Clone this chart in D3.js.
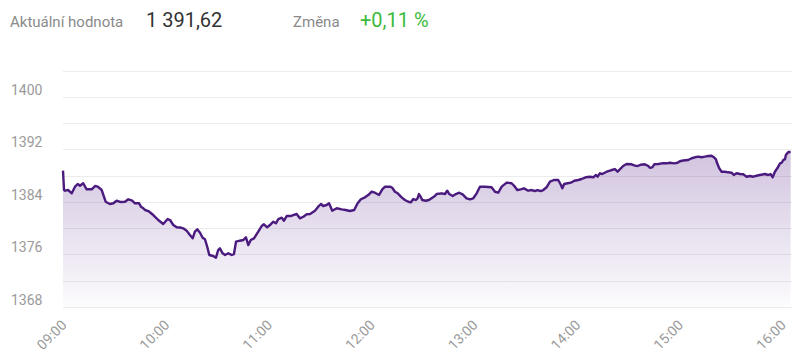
<!DOCTYPE html>
<html>
<head>
<meta charset="utf-8">
<script src="https://cdn.jsdelivr.net/npm/d3@7"></script>
<style>
  body { margin: 0; background: #fff; font-family: Roboto, "Noto Sans", sans-serif; }
  svg { display: block; }
</style>
</head>
<body>
<svg id="chart" width="800" height="364"></svg>
<script>
// minutes after 09:00
var minutes = [0,0.6,1.2,3.1,5.1,7.0,8.6,9.9,11.8,13.8,16.8,18.7,20.3,22.6,24.9,27.4,29.4,31.3,33.3,36.2,
  38.1,40.5,42.0,44.4,45.5,46.9,47.9,49.8,52.7,55.6,58.5,61.1,62.5,64.4,66.4,68.3,70.2,72.2,74.1,75.7,
  77.0,78.4,80.0,81.5,82.9,84.2,85.4,87.7,89.3,90.6,91.6,93.2,94.6,96.5,98.5,99.8,101.0,103.3,105.2,106.8,
  108.2,109.6,111.5,114.0,116.0,117.3,119.2,120.8,122.8,124.3,125.7,127.7,129.0,130.6,132.9,134.4,136.4,138.3,140.3,142.3,
  144.2,147.1,149.0,150.6,151.9,153.9,155.3,157.2,159.8,162.7,165.0,167.5,170.0,172.0,173.9,176.3,178.2,180.2,182.1,184.5,
  186.4,188.0,190.9,192.2,193.8,195.4,197.7,199.6,201.6,203.1,204.5,205.9,207.0,207.8,209.0,209.7,211.7,213.6,215.6,217.1,
  218.1,221.0,223.0,224.3,225.5,227.5,229.4,231.3,233.3,235.6,237.6,239.5,241.5,243.4,246.3,250.2,252.2,254.1,256.1,259.0,
  261.9,263.8,265.2,267.2,269.1,271.6,273.6,275.5,276.9,278.8,280.4,282.3,284.3,286.6,289.1,290.7,291.5,292.6,294.6,296.5,
  298.5,300.8,302.8,305.1,307.6,309.6,311.0,312.1,313.4,314.8,317.4,320.3,322.2,323.8,325.1,327.0,329.0,331.9,333.9,335.5,
  337.4,339.7,341.7,342.6,344.0,345.2,347.5,349.8,352.4,354.3,356.8,358.8,360.1,362.1,365.0,367.0,368.9,370.8,372.8,374.7,
  376.7,378.6,380.0,381.2,381.9,383.1,384.5,386.4,388.3,390.3,391.6,393.2,395.2,397.1,399.1,401.0,402.9,404.9,406.8,409.8,
  411.7,413.1,414.3,415.6,417.0,418.6,419.6,420.5,421.5,422.0,422.8,423.6,424.8];

var prices = [1388.77,1385.82,1385.72,1385.82,1385.32,1386.33,1386.74,1386.48,1386.85,1385.93,1385.93,1386.43,1386.33,1385.82,1384.04,1383.69,1383.80,1384.19,1384.00,1384.04,
  1384.41,1384.19,1383.80,1383.80,1383.28,1383.04,1382.78,1382.62,1382.01,1381.25,1380.64,1381.40,1381.25,1380.49,1380.14,1380.11,1379.99,1379.62,1378.97,1378.46,
  1379.47,1379.83,1379.32,1378.55,1378.31,1377.18,1375.92,1375.77,1375.51,1376.68,1376.94,1376.18,1375.92,1376.18,1375.92,1376.07,1377.95,1378.10,1378.20,1378.62,
  1377.44,1378.20,1378.46,1379.47,1380.34,1380.60,1380.14,1380.49,1380.99,1380.75,1381.40,1381.60,1381.15,1381.86,1381.86,1382.01,1382.17,1381.51,1381.75,1382.12,
  1382.17,1382.67,1383.28,1383.69,1383.39,1383.54,1383.80,1382.67,1383.04,1382.88,1382.78,1382.62,1382.78,1383.80,1384.41,1384.71,1385.06,1385.56,1385.41,1385.06,
  1385.93,1386.33,1386.33,1386.17,1385.56,1385.32,1384.71,1384.30,1384.04,1383.95,1384.45,1384.30,1384.56,1385.21,1384.71,1384.30,1384.19,1384.30,1384.65,1384.91,
  1385.21,1385.32,1385.21,1385.72,1385.21,1384.91,1385.21,1385.41,1385.17,1384.56,1384.41,1384.56,1385.32,1386.33,1386.33,1386.24,1385.56,1385.41,1386.33,1386.94,
  1386.85,1386.33,1385.82,1385.93,1386.08,1385.72,1385.82,1385.67,1385.82,1385.67,1385.82,1386.24,1387.09,1387.35,1387.35,1386.59,1386.08,1386.74,1386.85,1386.94,
  1387.24,1387.35,1387.50,1387.76,1387.85,1387.76,1388.11,1387.85,1388.37,1388.26,1388.61,1388.87,1389.02,1388.61,1388.98,1389.48,1389.79,1389.74,1389.53,1389.48,
  1389.68,1389.74,1389.48,1389.22,1389.28,1389.74,1389.79,1389.89,1389.89,1389.98,1389.89,1389.98,1390.21,1390.32,1390.40,1390.66,1390.81,1390.90,1390.81,1390.90,
  1391.01,1391.05,1390.81,1390.50,1389.89,1389.13,1388.61,1388.61,1388.52,1388.46,1388.11,1388.37,1388.26,1388.22,1387.85,1387.96,1387.85,1388.00,1388.11,1388.26,
  1388.11,1388.26,1387.76,1388.61,1389.13,1389.89,1389.98,1390.40,1390.50,1391.16,1391.42,1391.62,1391.62];

var yTicks = [1368, 1376, 1384, 1392, 1400];
var xTickLabels = ["09:00", "10:00", "11:00", "12:00", "13:00", "14:00", "15:00", "16:00"];

var currentLabel = "Aktuální hodnota", currentValue = "1 391,62";
var changeLabel = "Změna", changeValue = "+0,11 %";

var day = new Date(2020, 0, 2, 9, 0);
function toTime(m) { return new Date(day.getTime() + m * 60000); }

var data = minutes.map(function(m, i) { return { t: toTime(m), v: prices[i] }; });

var svg = d3.select("#chart");

var x = d3.scaleTime()
  .domain([toTime(0), toTime(425)])
  .range([63, 791]);
var y = d3.scaleLinear()
  .domain([1368, 1404])
  .range([307, 70.7]);

// header
var head = svg.append("g").attr("class", "header");
head.append("text").attr("x", 10).attr("y", 27).attr("font-size", 15).attr("fill", "#8a8a8a").text(currentLabel);
head.append("text").attr("x", 146).attr("y", 27).attr("font-size", 20).attr("fill", "#333").text(currentValue);
head.append("text").attr("x", 293).attr("y", 27).attr("font-size", 15).attr("fill", "#8a8a8a").text(changeLabel);
head.append("text").attr("x", 360).attr("y", 27).attr("font-size", 20).attr("fill", "#3cba3c").text(changeValue);

// gradient
var defs = svg.append("defs");
var grad = defs.append("linearGradient").attr("id", "fillGrad")
  .attr("gradientUnits", "userSpaceOnUse")
  .attr("x1", 0).attr("x2", 0).attr("y1", y(1391)).attr("y2", y(1368));
grad.append("stop").attr("offset", "0%").attr("stop-color", "#6b3f98").attr("stop-opacity", 0.3);
grad.append("stop").attr("offset", "100%").attr("stop-color", "#6b3f98").attr("stop-opacity", 0.02);

// grid every 4 points
var gridVals = d3.range(1368, 1405, 4);
svg.append("g").attr("class", "grid")
  .selectAll("line").data(gridVals).enter().append("line")
  .attr("x1", 63).attr("x2", 792)
  .attr("y1", function(d) { return Math.round(y(d)) + 0.5; })
  .attr("y2", function(d) { return Math.round(y(d)) + 0.5; })
  .attr("stroke", "#ececec").attr("stroke-width", 1);

// y labels above grid lines
svg.append("g").attr("class", "y-labels")
  .selectAll("text").data(yTicks).enter().append("text")
  .attr("x", 11)
  .attr("y", function(d) { return y(d) - 2; })
  .attr("font-size", 14).attr("fill", "#9a9a9a")
  .text(function(d) { return d; });

// area + line
var area = d3.area()
  .x(function(d) { return x(d.t); })
  .y0(y(1368))
  .y1(function(d) { return y(d.v); });
var line = d3.line()
  .x(function(d) { return x(d.t); })
  .y(function(d) { return y(d.v); });

svg.append("path").datum(data).attr("d", area).attr("fill", "url(#fillGrad)");
svg.append("path").datum(data).attr("d", line)
  .attr("fill", "none").attr("stroke", "#4a1a7e").attr("stroke-width", 2.4)
  .attr("stroke-linejoin", "round");

// x axis labels
var xAxis = d3.axisBottom(x)
  .tickValues(xTickLabels.map(function(s, i) { return toTime(i * 60); }))
  .tickFormat(function(d, i) { return xTickLabels[i]; })
  .tickSize(0);
var gx = svg.append("g").attr("transform", "translate(0,318)").call(xAxis);
gx.select(".domain").remove();
gx.selectAll("text")
  .attr("font-family", "Roboto, sans-serif")
  .attr("font-size", 14).attr("fill", "#9a9a9a")
  .attr("text-anchor", "end")
  .attr("dy", 0).attr("y", 0)
  .attr("transform", "translate(4,8) rotate(-45)");
</script>
</body>
</html>
